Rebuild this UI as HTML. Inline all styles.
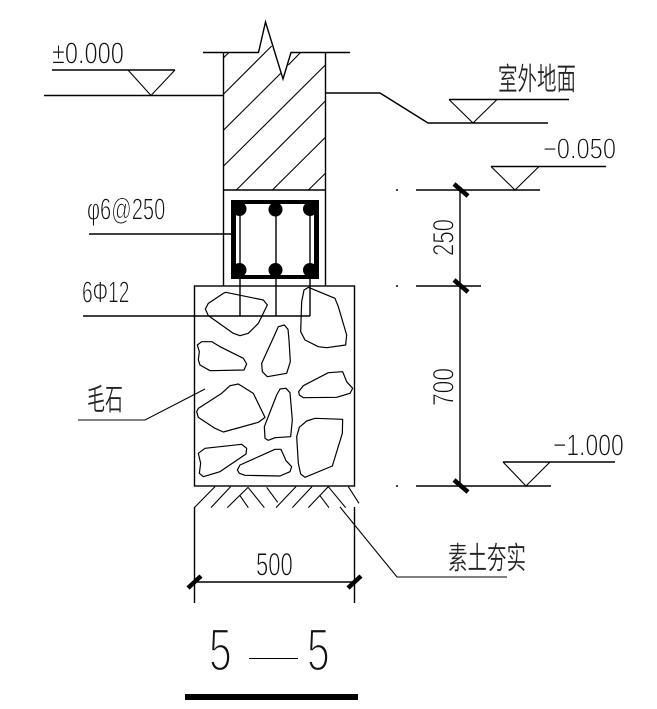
<!DOCTYPE html>
<html><head><meta charset="utf-8"><style>
html,body{margin:0;padding:0;background:#fff}
svg{display:block}
.l{fill:none;stroke:#000;stroke-width:1.4}
.t{fill:none;stroke:#000;stroke-width:1.1}
.tk{stroke:#000;stroke-width:4.5;fill:none}
.s path,.s polygon{fill:none;stroke:#000;stroke-width:1.2;vector-effect:non-scaling-stroke;stroke-linejoin:round}
.h line{stroke:#000;stroke-width:1.1;vector-effect:non-scaling-stroke}
text{font-family:"Liberation Sans","Noto Sans CJK SC",sans-serif;fill:#111;stroke:#fff;stroke-width:.9}
text.c{stroke-width:.3;fill:#222}
</style></head><body>
<svg width="657" height="709" viewBox="0 0 657 709" xmlns="http://www.w3.org/2000/svg">
<rect width="657" height="709" fill="#fff"/>
<!-- wall -->
<polyline class="l" points="203,52.5 258.5,52.5 265.5,22 283,79 291,52.5 350,52.5"/>
<path class="l" d="M223.5,52.5V286M325.5,52.5V286M223.5,190H325.5"/>
<g class="h" transform="translate(180,10) scale(.33333)">
<line x1="131" y1="143" x2="147" y2="127"/>
<line x1="131" y1="252" x2="275" y2="108"/>
<line x1="131" y1="360" x2="302" y2="190"/>
<line x1="325" y1="165" x2="362" y2="127"/>
<line x1="131" y1="468" x2="436" y2="165"/>
<line x1="168" y1="541" x2="436" y2="273"/>
<line x1="276" y1="541" x2="436" y2="382"/>
<line x1="384" y1="541" x2="436" y2="490"/>
</g>
<!-- levels -->
<path class="l" d="M52,70H175M44,95.5H223"/>
<polyline class="t" points="128,70 151,95.5 175,70"/>
<polyline class="l" points="326,93 380,93 428,123 548,123"/>
<path class="l" d="M449,99.5H569"/>
<polyline class="t" points="449,99.5 473,123 497,99.5"/>
<path class="l" d="M491,166.500H606M416,190H540"/>
<polyline class="t" points="491,166.500 515,190 539,166.500"/>
<path class="l" d="M503,462H615M416,486H551M416,286H481"/>
<polyline class="t" points="503,462 526,486 550,462"/>
<!-- dim vertical -->
<path class="l" d="M460,190V486"/>
<path class="tk" d="M454,184L468,196M454,280L468,292M454,480L468,492"/>
<g fill="#444"><rect x="396" y="189" width="2" height="2"/><rect x="396" y="285" width="2" height="2"/><rect x="396" y="485" width="2" height="2"/></g>
<!-- footing -->
<rect class="l" x="194.500" y="286" width="160" height="200"/>
<!-- stirrup -->
<path d="M231,200H319V279H231Z M236,204V275H314,V204Z" fill="#000" fill-rule="evenodd"/>
<path class="l" d="M240,204V316M276,204V316M310,204V316"/>
<g fill="#000">
<circle cx="239.500" cy="209" r="7"/><circle cx="275.500" cy="209.500" r="7"/><circle cx="310" cy="209" r="7"/>
<circle cx="239.500" cy="270" r="7"/><circle cx="275.500" cy="270" r="7"/><circle cx="310" cy="270" r="7"/>
</g>
<path class="l" d="M89,234H231M83,316H310"/>
<polyline class="t" points="78,420 145,420 205,389"/>
<!-- stones -->
<g class="s" transform="translate(180,185) scale(.33333)">
<polygon points="137,322 250,345 262,360 235,415 205,445 180,452 160,445 85,392 76,372 85,355 130,325"/>
<polygon points="372,315 385,307 465,340 475,365 500,450 497,480 440,488 415,485 375,465 362,440 365,350"/>
</g>
<g class="s" transform="translate(180,340) scale(.33333)">
<polygon points="277,0 295,-40 313,-45 324,-32 327,0 331,65 320,100 262,110 247,95 245,70"/>
<polygon points="52,15 65,5 95,5 120,20 190,55 200,72 192,90 90,92 60,75 55,60 58,35"/>
<polygon points="356,155 370,137 445,98 488,95 500,125 518,145 510,160 470,172 370,173 358,165"/>
<polygon points="50,215 55,205 125,160 150,137 175,132 220,160 255,232 235,247 130,276 105,265 55,232"/>
<polygon points="253,260 290,165 300,147 318,145 330,158 337,240 332,290 285,293 265,301 255,295"/>
<polygon points="350,290 358,262 380,243 405,235 488,238 487,280 457,378 375,412 362,402 355,370"/>
<polygon points="55,340 75,325 185,313 200,325 198,342 120,395 70,410 58,400 62,370"/>
<polygon points="172,390 180,375 285,328 303,328 318,362 335,380 330,395 300,408 195,406 178,400"/>
</g>
<g class="h" transform="translate(180,340) scale(.33333)">
<line x1="105" y1="440" x2="43" y2="503"/><line x1="152" y1="440" x2="93" y2="503"/>
<line x1="204" y1="442" x2="142" y2="503"/><line x1="204" y1="442" x2="253" y2="503"/>
<line x1="180" y1="467" x2="205" y2="503"/><line x1="260" y1="442" x2="293" y2="487"/>
<line x1="348" y1="440" x2="288" y2="503"/><line x1="396" y1="440" x2="337" y2="503"/>
<line x1="445" y1="440" x2="385" y2="503"/><line x1="445" y1="440" x2="497" y2="503"/>
<line x1="420" y1="467" x2="447" y2="503"/><line x1="505" y1="440" x2="537" y2="490"/>
</g>
<polyline class="t" points="340,507 397,577 507,577"/>
<!-- dim 500 -->
<path class="l" d="M194.500,507V603M354.500,507V603M194,582H354"/>
<path class="tk" d="M188,588L201,576M348,588L361,576"/>
<!-- section mark -->
<rect x="185" y="694" width="173" height="6" fill="#000"/>
<path class="t" d="M249,658.500H298"/>
<!-- labels -->
<text transform="translate(52,63.500) scale(.76,1)" font-size="31">±0.000</text>
<text class="c" transform="translate(498,90) scale(.63,1)" font-size="31">室外地面</text>
<text transform="translate(543,158.500) scale(.83,1)" font-size="28.500">−0.050</text>
<text transform="translate(87,219.500) scale(.65,1)" font-size="31">φ6@250</text>
<text transform="translate(82,302.500) scale(.62,1)" font-size="31">6Φ12</text>
<text class="c" transform="translate(87,410) scale(.6,1)" font-size="30">毛石</text>
<text transform="translate(553,455.500) scale(.74,1)" font-size="31">−1.000</text>
<text transform="translate(453.500,256) rotate(-90) scale(.74,1)" font-size="30">250</text>
<text transform="translate(453.500,406) rotate(-90) scale(.76,1)" font-size="30">700</text>
<text transform="translate(256,575.500) scale(.69,1)" font-size="32">500</text>
<text class="c" transform="translate(448,569) scale(.63,1)" font-size="31">素土夯实</text>
<text transform="translate(209,670.500) scale(.68,1)" font-size="60" style="stroke-width:2.2">5</text>
<text transform="translate(307,670.500) scale(.68,1)" font-size="60" style="stroke-width:2.2">5</text>
</svg>
</body></html>
